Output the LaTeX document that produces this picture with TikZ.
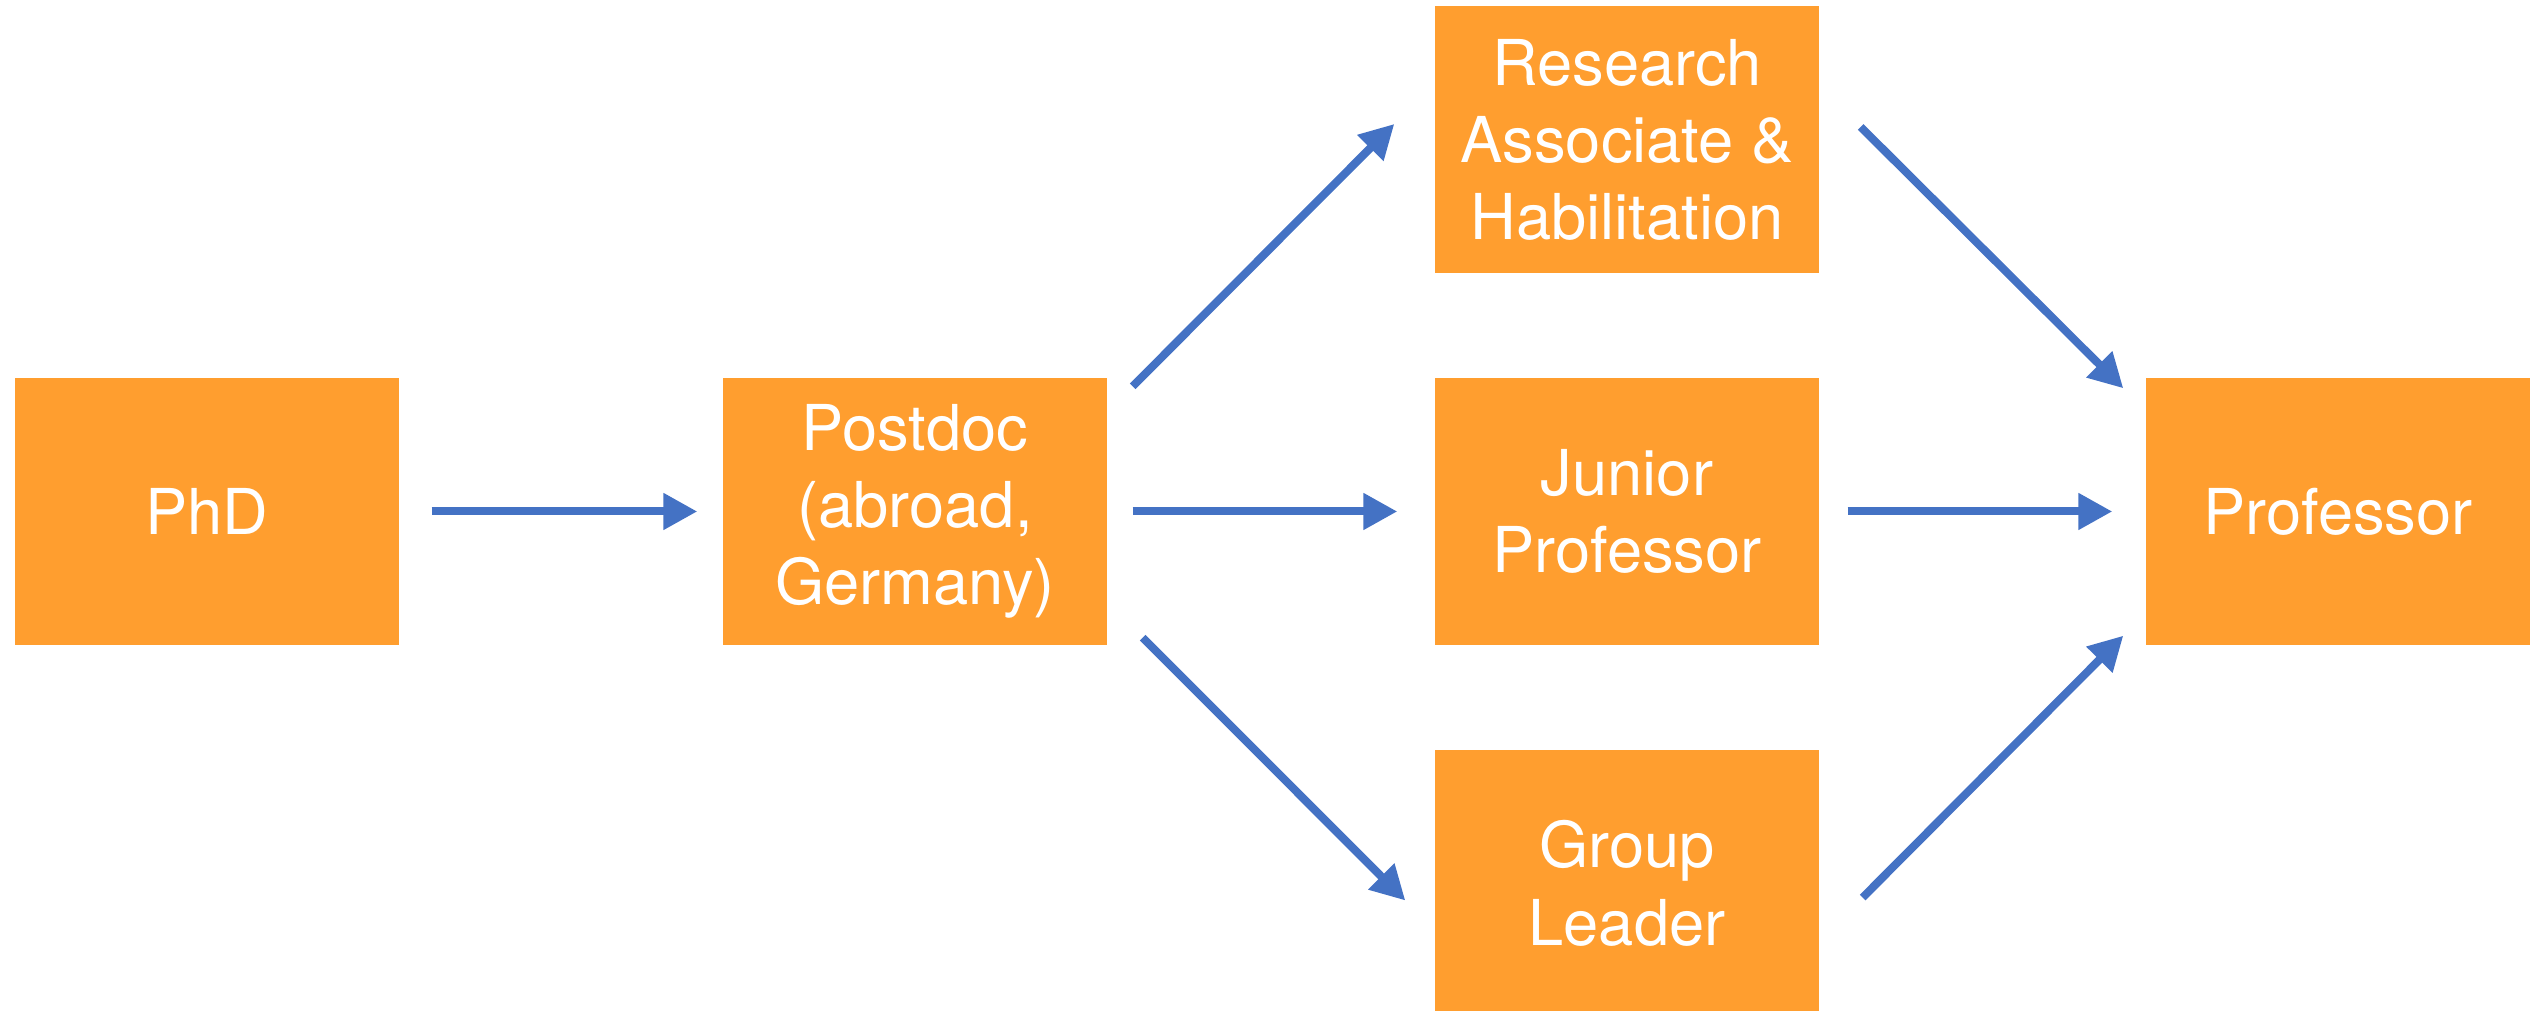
\documentclass[tikz,border=0pt]{standalone}
\usepackage{fontspec}
\setmainfont{TeX Gyre Heros}
\usetikzlibrary{arrows.meta,calc}
\definecolor{boxorange}{HTML}{FF9E2F}
\definecolor{linkblue}{HTML}{4472C4}

\begin{document}
\begin{tikzpicture}[
        career/.style={fill=boxorange, text=white, minimum width=3.84cm, minimum height=2.67cm,
            inner sep=0pt, align=center, font=\fontsize{18}{22}\selectfont},
        link/.style={draw=linkblue, line width=0.08cm, -{Triangle[length=3.4mm, width=3.5mm]}}
    ]
        \useasboundingbox (0, 0) rectangle (25.42, 10.11);

        \node[career] (phd) at(2.07, 4.995){PhD};
        \node[career] (postdoc) at(9.15, 4.995){Postdoc\\(abroad,\\Germany)};
        \node[career] (research) at(16.27, 8.71){Research\\Associate \&\\Habilitation};
        \node[career] (junior) at(16.27, 4.995){Junior\\Professor};
        \node[career] (group) at(16.27, 1.275){Group\\Leader};
        \node[career] (prof) at(23.38, 4.995){Professor};

        % straight on
        \draw[link] ($(phd.east)+(.32, 0)$) -- ($(postdoc.west)+(-.25, 0)$);
        \draw[link] ($(postdoc.east)+(.25, 0)$) -- ($(junior.west)+(-.37, 0)$);
        \draw[link] ($(junior.east)+(.28, 0)$) -- ($(prof.west)+(-.33, 0)$);

        % the detours
        \draw[link] ($(postdoc.north east)+(.25, -.09)$) -- ($(research.west)+(-.40, .16)$);
        \draw[link] ($(postdoc.south east)+(.35, .08)$) -- ($(group.west)+(-.29, -.17)$);
        \draw[link] ($(research.east)+(.41, .13)$) -- ($(prof.north west)+(-.22, -.11)$);
        \draw[link] ($(group.east)+(.43, -.14)$) -- ($(prof.south west)+(-.22, .10)$);
    \end{tikzpicture}
\end{document}
